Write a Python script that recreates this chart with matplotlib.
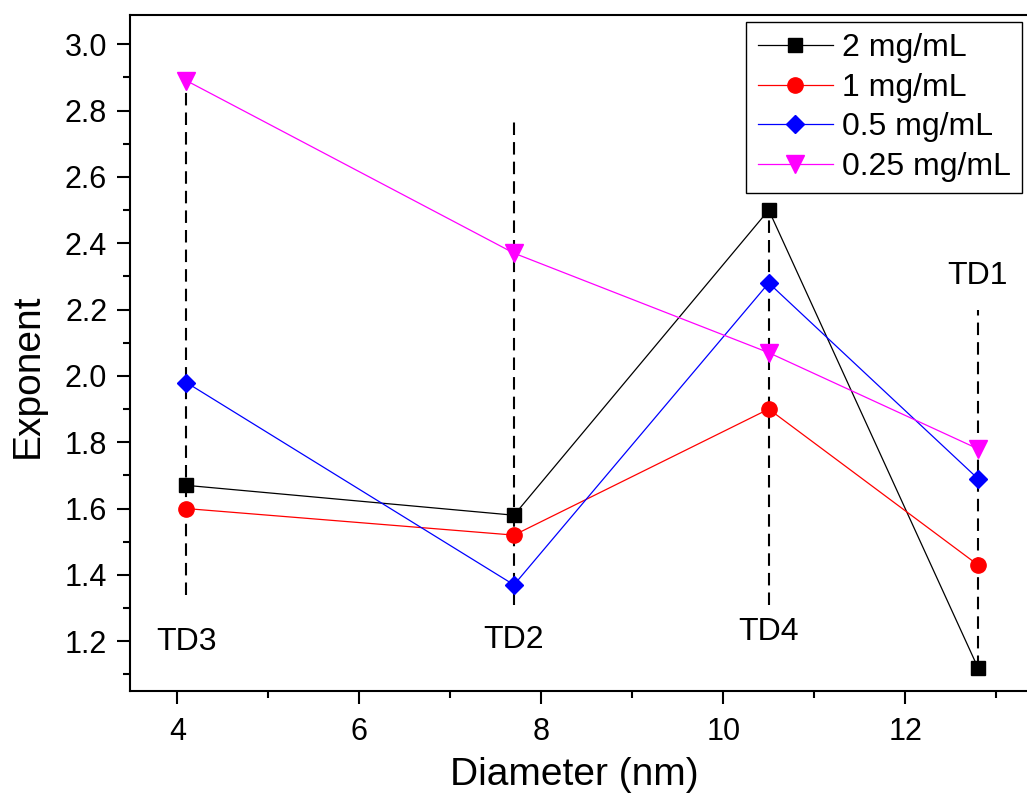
import matplotlib
matplotlib.use("Agg")
import matplotlib.pyplot as plt
from matplotlib.ticker import MultipleLocator

plt.rcParams['font.family'] = ['Liberation Sans', 'DejaVu Sans']

# sample positions (diameter, nm) and names
diam = [4.1, 7.7, 10.5, 12.8]
names = ['TD3', 'TD2', 'TD4', 'TD1']

# exponent values per concentration
exp_2 = [1.67, 1.58, 2.50, 1.12]
exp_1 = [1.60, 1.52, 1.90, 1.43]
exp_05 = [1.98, 1.37, 2.28, 1.69]
exp_025 = [2.89, 2.37, 2.07, 1.78]

# dashed guide lines (top, bottom) and label heights
guide_top = [2.88, 2.78, 2.50, 2.20]
guide_bot = [1.34, 1.31, 1.31, 1.12]
label_y = [1.197, 1.203, 1.227, 2.30]

fig = plt.figure(figsize=(10.27, 7.94), dpi=100)
ax = fig.add_axes([0.1266, 0.1297, 0.932, 0.851])

for x, t, b in zip(diam, guide_top, guide_bot):
    ax.plot([x, x], [b, t], ls=(0, (6, 3.4)), color='black', lw=1.5, zorder=1)

ax.plot(diam, exp_2, '-s', color='black', lw=0.9, ms=10, label='2 mg/mL', zorder=3)
ax.plot(diam, exp_1, '-o', color='red', lw=0.9, ms=11, label='1 mg/mL', zorder=3)
ax.plot(diam, exp_05, '-D', color='blue', lw=0.9, ms=9.5, label='0.5 mg/mL', zorder=3)
ax.plot(diam, exp_025, '-v', color='magenta', lw=0.9, ms=12.5, label='0.25 mg/mL', zorder=3)

for x, n, y in zip(diam, names, label_y):
    ax.text(x, y, n, ha='center', va='center', fontsize=23)

ax.set_xlim(3.48, 14.0)
ax.set_ylim(1.05, 3.087)
ax.set_xticks([4, 6, 8, 10, 12])
ax.xaxis.set_minor_locator(MultipleLocator(1))
ax.set_yticks([1.2, 1.4, 1.6, 1.8, 2.0, 2.2, 2.4, 2.6, 2.8, 3.0])
ax.set_yticklabels(['1.2', '1.4', '1.6', '1.8', '2.0', '2.2', '2.4', '2.6', '2.8', '3.0'])
ax.yaxis.set_minor_locator(MultipleLocator(0.1))

ax.tick_params(which='both', direction='out', width=1.5, labelsize=22, top=False, right=False)
ax.tick_params(which='major', length=9.4)
ax.tick_params(axis='x', which='major', pad=9)
ax.tick_params(axis='y', which='major', pad=7)
ax.tick_params(which='minor', length=5)
for s in ax.spines.values():
    s.set_linewidth(1.5)

ax.set_xlabel('Diameter (nm)', fontsize=28)
ax.xaxis.set_label_coords(0.464, -0.0976)
ax.set_ylabel('Exponent', fontsize=28)
ax.yaxis.set_label_coords(-0.088, 0.466)

leg = ax.legend(loc='upper left', bbox_to_anchor=(0.644, 0.99), borderaxespad=0,
                fontsize=23, fancybox=False, edgecolor='black', framealpha=1,
                handlelength=2.35, handletextpad=0.3, labelspacing=0.3, borderpad=0.35)
leg.get_frame().set_linewidth(1.0)

fig.savefig('out.png', dpi=100)
